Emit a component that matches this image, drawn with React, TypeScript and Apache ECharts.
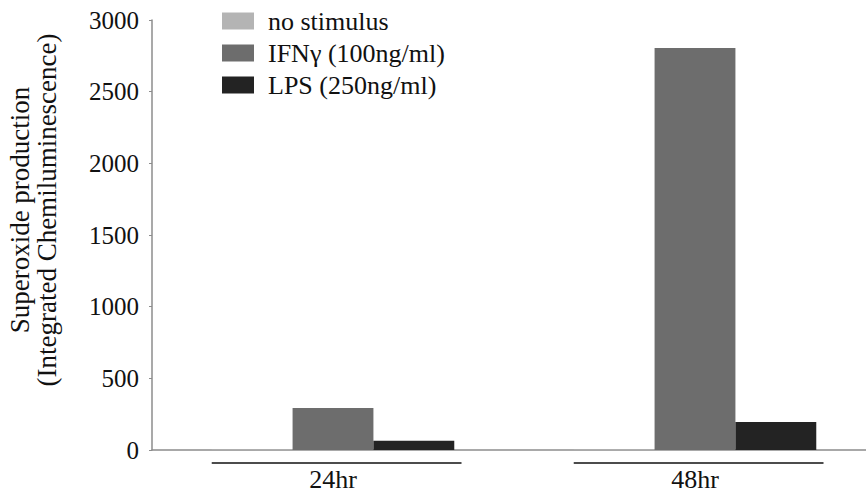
import React, { useEffect, useRef } from "react";
import * as echarts from "echarts";

const categories = ["24hr", "48hr"];
const seriesNames = ["no stimulus", "IFNγ (100ng/ml)", "LPS (250ng/ml)"];
const noStimulus = [4, 4];
const ifnGamma = [293, 2805];
const lps = [65, 195];
const yTicks = { min: 0, max: 3000, interval: 500 };
const colors = ["#b4b4b4", "#6d6d6d", "#232323"];

const FONT = "Liberation Serif";

export default function App() {
  const ref = useRef<HTMLDivElement>(null);
  useEffect(() => {
    if (!ref.current) return;
    const chart = echarts.init(ref.current, null, { renderer: "svg" });
    const barSeries = [noStimulus, ifnGamma, lps].map((d, i) => ({
      type: "bar",
      name: seriesNames[i],
      data: d,
      barGap: "0%",
      barCategoryGap: "33%",
      itemStyle: { color: colors[i] },
      silent: true,
    }));
    chart.setOption({
      animation: false,
      backgroundColor: "#ffffff",
      textStyle: { fontFamily: FONT },
      grid: { left: 152, top: 20, width: 724, height: 430 },
      legend: {
        orient: "vertical",
        left: 217,
        top: 3,
        itemWidth: 32,
        itemHeight: 17,
        itemGap: 6,
        icon: "rect",
        data: seriesNames,
        formatter: "{t|{name}}",
        textStyle: {
          fontFamily: FONT,
          fontSize: 26,
          color: "#111",
          rich: { t: { fontFamily: FONT, fontSize: 26, color: "#111", padding: [0, 0, 0, 9] } },
        },
        selectedMode: false,
      },
      xAxis: {
        type: "category",
        data: categories,
        axisLine: { lineStyle: { color: "#8c8c8c", width: 1.5 } },
        axisTick: { show: false },
        axisLabel: { fontFamily: FONT, fontSize: 26, color: "#111", margin: 16 },
      },
      yAxis: {
        type: "value",
        min: yTicks.min,
        max: yTicks.max,
        interval: yTicks.interval,
        axisLine: { show: true, lineStyle: { color: "#8c8c8c", width: 1.5 } },
        axisTick: { show: true, length: 3, lineStyle: { color: "#8c8c8c" } },
        splitLine: { show: false },
        axisLabel: {
          fontFamily: FONT,
          fontSize: 25,
          color: "#111",
          margin: 13,
          formatter: (v: number) => String(v),
        },
      },
      graphic: [
        {
          type: "text",
          x: 33,
          y: 210,
          rotation: Math.PI / 2,
          style: {
            text: "Superoxide production\n(Integrated Chemiluminescence)",
            fontFamily: FONT,
            fontSize: 27,
            lineHeight: 27,
            fill: "#111",
            align: "center",
            verticalAlign: "middle",
          },
        },
      ],
      series: [
        ...barSeries,
        {
          type: "custom",
          name: "bracket",
          silent: true,
          clip: false,
          data: categories.map((_, i) => [i, 0]),
          encode: { x: 0, y: 1 },
          renderItem: (params: any, api: any) => {
            const p = api.coord([api.value(0), 0]);
            const bw = api.size([1, 0])[0];
            return {
              type: "line",
              shape: {
                x1: p[0] - 0.335 * bw,
                y1: p[1] + 13,
                x2: p[0] + 0.355 * bw,
                y2: p[1] + 13,
              },
              style: { stroke: "#111", lineWidth: 1.5 },
            };
          },
        },
      ],
    });
    return () => chart.dispose();
  }, []);
  return (
    <div
      ref={ref}
      style={{ position: "fixed", left: 0, top: 0, width: 900, height: 497, background: "#fff" }}
    />
  );
}
